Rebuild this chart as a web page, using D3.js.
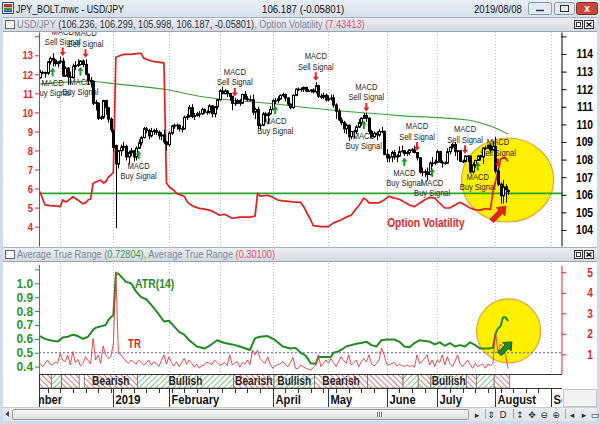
<!DOCTYPE html>
<html><head><meta charset="utf-8">
<script src="https://cdn.jsdelivr.net/npm/d3@7"></script>
<style>
html,body{margin:0;padding:0;background:#fff;overflow:hidden}
svg{display:block;font-family:"Liberation Sans",Arial,sans-serif}
</style></head><body>
<svg id="c" width="600" height="424"></svg>
<script>
// ================= DATA =================
const firstBarDate = "2018-11-21";
const calendarStart = "2018-11-01", calendarEnd = "2019-09-30";
const marketHolidays = ["2019-01-01"];

const open = [
112.65,112.95,112.95,112.90,113.55,113.75,113.65,113.45,113.55,113.60,
112.75,113.20,112.70,112.65,113.30,113.35,113.40,113.60,113.40,112.85,
112.50,112.45,111.20,111.20,110.35,110.40,111.35,110.95,110.30,109.65,
108.80,107.75,108.50,108.70,108.75,108.15,108.40,108.50,108.15,108.65,
108.95,109.25,109.75,109.65,109.35,109.60,109.65,109.55,109.35,109.40,
109.00,108.85,109.50,109.90,109.95,109.95,109.75,109.75,110.40,110.45,
110.95,110.45,110.50,110.60,110.60,110.85,110.70,110.70,111.05,110.60,
111.00,111.40,111.90,111.75,111.90,111.75,111.60,111.20,111.20,111.35,
111.20,111.70,111.45,111.40,111.40,110.70,110.85,109.95,109.95,110.60,
110.50,110.60,110.85,111.35,111.35,111.45,111.65,111.70,111.50,111.15,
110.95,111.65,112.00,112.00,112.00,112.10,111.90,111.90,111.95,111.85,
112.20,111.60,111.55,111.65,111.40,111.45,111.50,111.10,110.75,110.25,
110.10,109.75,109.95,109.30,109.60,109.60,109.85,110.10,110.35,110.50,
110.35,109.60,109.30,109.50,109.40,109.60,109.60,108.30,108.10,108.15,
108.40,108.15,108.20,108.45,108.50,108.35,108.40,108.55,108.55,108.40,
108.10,107.30,107.30,107.30,107.15,107.80,107.80,107.85,108.45,107.85,
107.80,107.80,108.45,108.70,108.85,108.45,108.50,107.90,107.90,108.20,
108.20,107.30,107.70,107.95,108.20,108.15,108.65,108.65,108.80,108.55,
108.75,107.35,106.60,105.95,106.45,106.236];
const high = [
113.10,113.05,113.00,113.60,113.85,114.05,113.70,113.60,113.85,113.80,
113.30,113.25,113.00,113.45,113.60,113.70,113.65,113.70,113.70,112.90,
112.70,112.50,111.40,111.25,110.50,111.40,111.40,111.00,110.40,109.70,
108.85,108.55,108.85,109.00,108.85,108.50,108.65,108.55,108.75,109.15,
109.35,109.85,109.85,109.75,109.80,109.75,109.80,109.65,109.55,109.70,
109.05,109.60,109.95,110.05,110.05,110.00,109.90,110.50,110.60,111.10,
111.15,110.65,110.70,110.75,110.95,110.90,110.80,111.15,111.10,111.05,
111.45,112.00,112.15,112.00,111.95,111.80,111.60,111.50,111.45,111.45,
111.75,111.90,111.60,111.65,111.70,110.95,111.00,110.05,110.70,110.70,
110.70,111.05,111.45,111.50,111.60,111.70,111.80,111.75,111.55,111.20,
111.70,112.05,112.10,112.10,112.15,112.15,112.00,112.00,112.05,112.40,
112.25,111.75,111.80,111.75,111.65,111.70,111.70,111.20,110.90,110.40,
110.20,110.05,110.00,109.60,109.70,109.95,110.30,110.40,110.65,110.65,
110.40,109.70,109.60,109.60,109.75,109.85,109.65,108.60,108.30,108.50,
108.55,108.30,108.75,108.80,108.55,108.50,108.60,108.65,108.80,108.42,
108.15,107.55,107.45,107.55,107.90,108.15,108.00,108.55,108.50,107.95,
107.90,108.65,108.75,108.95,109.00,108.55,108.55,108.00,108.25,108.25,
108.20,107.85,108.00,108.25,108.25,108.70,108.80,108.85,108.90,109.05,
109.30,107.50,106.70,106.85,106.60,106.299];
const low = [
112.60,112.85,112.65,112.80,113.40,113.30,113.30,113.25,113.45,112.70,
112.70,112.25,112.25,112.60,113.10,113.25,113.35,113.25,112.80,112.25,
112.10,111.10,110.80,110.25,110.25,110.30,110.55,110.10,109.55,108.45,
104.10,107.50,108.20,108.50,107.95,107.75,108.20,107.90,107.95,108.60,
108.80,109.20,109.50,109.15,109.25,109.40,109.40,109.15,109.10,108.90,
108.50,108.75,109.40,109.75,109.70,109.60,109.55,109.70,110.25,110.40,
110.35,110.25,110.45,110.40,110.55,110.60,110.55,110.60,110.40,110.40,
110.85,111.35,111.70,111.70,111.55,111.35,110.80,111.05,111.15,111.05,
111.15,111.40,111.30,111.30,110.55,110.30,109.75,109.70,109.90,110.15,
110.00,110.55,110.80,111.15,111.20,111.40,111.55,111.30,111.05,110.85,
110.90,111.60,111.90,111.85,111.85,111.85,111.85,111.80,111.75,111.75,
111.50,111.45,111.45,111.30,111.30,111.35,110.95,110.30,110.20,109.95,
109.50,109.45,109.05,109.15,109.20,109.45,109.80,109.90,110.30,110.15,
109.45,109.25,109.25,109.10,109.30,109.50,108.25,107.85,107.85,107.85,
108.00,107.85,108.15,108.40,108.20,108.20,108.25,108.40,108.35,107.95,
107.20,107.05,107.00,106.80,107.10,107.60,107.70,107.80,107.80,107.55,
107.70,107.75,108.30,108.60,108.20,107.95,107.85,107.80,107.85,107.85,
107.20,107.20,107.55,107.95,107.95,107.75,108.55,108.60,108.40,108.50,
107.20,106.50,105.50,105.50,105.55,105.998];
const close = [
112.95,112.95,112.90,113.55,113.75,113.65,113.45,113.55,113.60,112.75,
113.20,112.70,112.70,113.30,113.35,113.40,113.60,113.40,112.85,112.50,
112.45,111.20,111.25,110.35,110.40,111.35,110.95,110.30,109.70,108.70,
107.75,108.50,108.70,108.75,108.15,108.40,108.50,108.15,108.65,108.95,
109.25,109.75,109.65,109.35,109.60,109.65,109.55,109.35,109.40,109.00,
108.85,109.50,109.90,109.95,109.95,109.75,109.75,110.40,110.45,110.95,
110.45,110.50,110.60,110.60,110.85,110.70,110.70,111.05,110.60,111.00,
111.40,111.90,111.75,111.90,111.75,111.60,111.20,111.20,111.35,111.20,
111.70,111.45,111.40,111.40,110.70,110.85,109.95,109.95,110.60,110.50,
110.60,110.85,111.35,111.35,111.45,111.65,111.70,111.50,111.15,110.95,
111.65,112.00,112.00,112.00,112.10,111.90,111.90,111.95,111.85,112.20,
111.60,111.55,111.65,111.40,111.45,111.50,111.10,110.75,110.25,110.10,
109.75,109.95,109.30,109.60,109.60,109.85,110.10,110.35,110.50,110.35,
109.60,109.30,109.50,109.40,109.60,109.60,108.30,108.10,108.15,108.40,
108.15,108.20,108.45,108.50,108.35,108.40,108.55,108.55,108.40,108.10,
107.30,107.30,107.30,107.15,107.80,107.80,107.85,108.45,107.85,107.80,
107.80,108.45,108.70,108.85,108.45,108.50,107.90,107.90,108.20,108.20,
107.30,107.70,107.95,108.20,108.15,108.65,108.65,108.80,108.55,108.75,
107.35,106.60,105.95,106.45,106.30,106.187];

const trueRange = [
0.56,0.40,0.55,0.72,0.52,0.48,0.62,0.56,1.05,0.70,
0.64,0.97,0.48,1.13,0.60,0.75,0.43,0.56,0.88,0.70,
0.52,1.78,0.72,0.97,0.56,1.40,0.97,0.80,0.88,1.50,
5.03,1.05,0.97,0.80,0.68,0.56,0.72,0.62,0.52,0.72,
0.60,0.48,0.58,0.72,0.48,0.64,0.55,0.40,0.70,0.97,
0.52,0.88,0.60,0.43,0.64,0.40,0.60,0.80,0.52,0.72,
0.55,0.37,0.52,0.32,0.45,0.48,0.62,0.56,0.50,0.72,
0.60,0.48,0.52,0.60,0.45,0.97,0.48,0.58,0.64,0.37,
0.60,0.52,0.72,0.50,1.21,0.97,1.21,0.80,0.64,0.55,
0.88,0.52,0.32,0.45,0.48,0.55,0.64,0.50,0.40,0.60,
0.85,0.32,0.30,0.48,0.40,0.32,0.28,0.23,0.35,0.48,
0.97,0.40,0.55,0.72,0.56,0.80,0.60,0.40,0.64,0.88,
0.70,0.56,0.97,0.48,0.58,0.72,0.40,0.64,0.80,0.62,
0.97,0.56,0.43,0.55,0.72,1.30,0.97,0.52,0.48,0.55,
0.60,0.43,0.52,0.45,0.40,0.48,0.40,0.45,0.37,0.97,
0.56,0.65,0.80,0.97,0.48,0.72,0.40,0.72,0.60,0.97,
0.48,0.88,0.55,0.40,0.64,0.97,0.55,0.40,0.56,0.72,
0.50,0.32,0.56,0.40,0.48,0.52,0.32,0.52,0.45,0.56,
2.10,1.10,1.50,1.35,0.95,0.30];

// [bar number, value] vertices
const atr14 = [[0,0.62],[2,0.60],[4,0.59],[7,0.58],[9,0.61],[11,0.615],[13,0.63],[15,0.62],[17,0.60],[19,0.615],
[21,0.665],[22,0.68],[24,0.69],[26,0.70],[27,0.735],[28,0.755],[29,0.77],[30,1.07],[31,1.07],[32,1.05],[34,1.01],
[36,1.0],[38,0.94],[40,0.90],[42,0.885],[44,0.845],[46,0.80],[48,0.75],[49,0.725],[51,0.73],[53,0.69],[55,0.65],
[57,0.63],[59,0.59],[62,0.545],[65,0.53],[67,0.55],[70,0.59],[73,0.57],[76,0.56],[79,0.545],[83,0.52],[85,0.605],
[87,0.615],[90,0.62],[93,0.59],[96,0.545],[99,0.53],[101,0.535],[103,0.50],[105,0.48],[107,0.425],[109,0.42],
[110,0.47],[113,0.47],[115,0.47],[116,0.50],[118,0.51],[119,0.52],[121,0.545],[123,0.555],[125,0.565],[127,0.57],
[129,0.58],[131,0.555],[133,0.545],[135,0.59],[137,0.595],[140,0.595],[142,0.58],[144,0.545],[146,0.54],[148,0.57],
[150,0.59],[152,0.585],[154,0.58],[156,0.56],[158,0.575],[160,0.55],[162,0.57],[164,0.545],[166,0.555],[168,0.545],
[170,0.575],[172,0.555],[174,0.53],[177,0.53],[179,0.535],[180,0.635],[181,0.675],[182,0.69],[183,0.755],[184,0.755],[185,0.728]];

const optionVol = [[0,5.84],[2,5.14],[4,5.1],[7,5.08],[8,5.05],[9,5.4],[10,5.3],[11,5.35],[13,5.57],[15,5.4],[17,5.2],
[18,5.25],[19,5.4],[20,5.45],[21,6.28],[23,6.4],[24,6.45],[25,6.3],[26,6.35],[27,6.6],[28,6.7],[29,6.85],[30,12.9],
[31,12.95],[33,13.05],[36,13.05],[39,13.1],[40,13.1],[41,12.85],[44,12.7],[46,12.65],[49,12.6],[50,6.3],[51,6.1],
[53,5.9],[54,5.75],[57,5.6],[58,5.35],[59,5.2],[61,5.05],[63,4.96],[65,4.92],[67,4.87],[69,4.75],[71,4.6],[73,4.65],
[76,4.44],[79,4.5],[83,4.5],[85,4.55],[86,5.75],[87,5.6],[90,5.65],[92,5.55],[94,5.4],[96,5.35],[100,5.3],[103,5.28],
[104,5.1],[106,4.6],[107,4.35],[108,4.05],[111,4.0],[114,4.0],[116,4.2],[119,4.35],[121,4.5],[123,4.6],[125,4.95],
[126,5.1],[128,5.5],[129,5.4],[130,5.25],[134,5.25],[136,5.4],[138,5.6],[140,5.5],[142,5.44],[144,5.3],[146,5.14],
[148,5.05],[150,5.23],[152,5.4],[154,5.54],[156,5.5],[158,5.23],[160,4.98],[162,4.98],[164,5.14],[166,5.28],[168,5.14],
[170,4.98],[172,4.88],[174,4.87],[176,4.95],[178,4.9],[179,5.85],[181,6.9],[182,7.55],[183,7.6],[184,7.6],[185,7.43]];

const ma200 = [[0,112.3],[10,112.4],[20,112.45],[30,112.3],[51,111.95],[63,111.6],[90,111.2],[116,110.8],
[142,110.5],[169,110.25],[176,110.0],[180,109.8],[185,109.45]];

const sellSignals = ["2018-12-04","2018-12-17","2019-03-11","2019-04-24","2019-05-22","2019-06-19","2019-07-16","2019-08-02"];
const buySignals  = ["2018-11-28","2018-12-13","2019-01-16","2019-04-02","2019-05-21","2019-06-12","2019-06-27","2019-07-23"];

const regimeStart = ["2018-11-21","2018-11-28","2018-12-04","2018-12-17","2019-01-16","2019-03-11","2019-04-02","2019-04-24","2019-05-23","2019-06-12","2019-06-20","2019-06-27","2019-07-17","2019-07-23","2019-08-01"];
const regimeEnd   = ["2018-11-27","2018-12-03","2018-12-12","2019-01-15","2019-03-08","2019-04-01","2019-04-23","2019-05-22","2019-06-11","2019-06-19","2019-06-26","2019-07-16","2019-07-22","2019-07-31","2019-08-08"];
const regimeType  = ["bear","bull","bear","bear","bull","bear","bull","bear","bear","bull","bear","bull","bear","bull","bear"];

const supportLevel = 106.08;
const atrLevel = 0.5;
const volTicks = [4,5,6,7,8,9,10,11,12,13,14];
const priceTicks = [104,105,106,107,108,109,110,111,112,113,114,115];
const atrTicks = [0.4,0.5,0.6,0.7,0.8,0.9,1.0,1.1];
const trTicks = [1,2,3,4,5];
const monthTickLabels = ["November","December","2019","February","March","April","May","June","July","August","September"];

// ================= CALENDAR =================
const parseD = d3.utcParse("%Y-%m-%d"), fmtD = d3.utcFormat("%Y-%m-%d");
function tradingCalendar(from, to, skip){
  const out=[];
  for(let d=parseD(from); d<=parseD(to); d=d3.utcDay.offset(d,1)){
    const wd=d.getUTCDay(), s=fmtD(d);
    if(wd===0||wd===6||skip.includes(s)) continue;
    out.push(s);
  }
  return out;
}
const calendar = tradingCalendar(calendarStart, calendarEnd, marketHolidays);
const k0 = calendar.indexOf(firstBarDate);
const bar = s => calendar.indexOf(s) - k0;
const nBars = close.length;

// ================= LAYOUT =================
const svg = d3.select("#c");
const X0=39, X1=562, T0=32, T1=246, L0=263, L1=374, B1=388, AXB=407;
const FONT='"Liberation Sans",Arial,sans-serif';
const RED="#e3262b", GREEN="#2a962a";

const x = d3.scaleLinear().domain([-0.18, 206.3]).range([X0+0.5, X1]);
const volY = d3.scaleLinear().domain([2.984, 14.224]).range([T1, T0]);
const priceY = d3.scaleLinear().domain([103.09, 115.25]).range([T1, T0]);
const atrY = d3.scaleLinear().domain([0.347, 1.146]).range([L1, L0]);
const trY = d3.scaleLinear().domain([0.039, 5.454]).range([L1, L0]);

function squeeze(sel, f){
  sel.each(function(){const w=this.getComputedTextLength(); if(w>0){this.setAttribute("textLength",(w*f).toFixed(2)); this.setAttribute("lengthAdjust","spacingAndGlyphs");}});
}
function blockArrow(x1,y1,x2,y2,sw,hw,hl){
  const dx=x2-x1, dy=y2-y1, L=Math.hypot(dx,dy), ux=dx/L, uy=dy/L, px=-uy, py=ux;
  const bx=x2-ux*hl, by=y2-uy*hl;
  const pts=[[x1+px*sw/2,y1+py*sw/2],[bx+px*sw/2,by+py*sw/2],[bx+px*hw/2,by+py*hw/2],[x2,y2],
             [bx-px*hw/2,by-py*hw/2],[bx-px*sw/2,by-py*sw/2],[x1-px*sw/2,y1-py*sw/2]];
  return "M"+pts.map(p=>p[0].toFixed(2)+","+p[1].toFixed(2)).join("L")+"Z";
}

// defs
const defs = svg.append("defs");
defs.append("clipPath").attr("id","clipTop").append("rect").attr("x",X0+0.5).attr("y",T0).attr("width",X1-X0-0.5).attr("height",T1-T0);
defs.append("clipPath").attr("id","clipLow").append("rect").attr("x",X0+0.5).attr("y",L0).attr("width",X1-X0-0.5).attr("height",L1-L0);
defs.append("clipPath").attr("id","clipAx").append("rect").attr("x",X0+0.5).attr("y",L1).attr("width",X1-X0-0.5).attr("height",AXB-L1);
function grad(id, c1, c2){const g=defs.append("linearGradient").attr("id",id).attr("x1",0).attr("y1",0).attr("x2",0).attr("y2",1);
  g.append("stop").attr("offset","0").attr("stop-color",c1); g.append("stop").attr("offset","1").attr("stop-color",c2);}
grad("gTitle","#e9eff7","#d4e0ee"); grad("gHead","#eef0f3","#d3d8df"); grad("gThumb","#fbfbfb","#dcdcdc"); grad("gScroll","#eceef1","#e0e3e7");
function hatch(id, angle, color){
  const p=defs.append("pattern").attr("id",id).attr("patternUnits","userSpaceOnUse").attr("width",4).attr("height",4).attr("patternTransform",`rotate(${angle})`);
  p.append("rect").attr("width",4).attr("height",4).attr("fill","#fff");
  p.append("line").attr("x1",0.5).attr("y1",0).attr("x2",0.5).attr("y2",4).attr("stroke",color).attr("stroke-width",1);
}
hatch("hBear",-45,"#e47a7a"); hatch("hBull",45,"#86c286");

// ================= WINDOW CHROME =================
svg.append("rect").attr("width",600).attr("height",424).attr("fill","#fff");
svg.append("rect").attr("width",600).attr("height",17).attr("fill","url(#gTitle)");
const ic = svg.append("g");
ic.append("rect").attr("x",2.5).attr("y",2.5).attr("width",11).attr("height",11).attr("fill","#fff").attr("stroke","#3a4a6a");
ic.append("rect").attr("x",4).attr("y",4).attr("width",8).attr("height",3).attr("fill","#d02a2a");
ic.append("rect").attr("x",4).attr("y",7.5).attr("width",8).attr("height",2.5).attr("fill","#2a9a3a");
ic.append("rect").attr("x",4).attr("y",10.3).attr("width",8).attr("height",2).attr("fill","#2a4ad0");
const tt = svg.append("g").attr("font-family",FONT).attr("font-size",11).attr("fill","#111");
const t1 = tt.append("text").attr("x",16).attr("y",12.5).text("JPY_BOLT.mwc - USD/JPY");
const t2 = tt.append("text").attr("x",262).attr("y",12.5).text("106.187 (-0.05801)");
const t3 = tt.append("text").attr("x",474).attr("y",12.5).text("2019/08/08");
squeeze(t1,0.8); squeeze(t2,0.88); squeeze(t3,0.87);
svg.append("rect").attr("x",528.5).attr("y",2.5).attr("width",23).attr("height",12).attr("rx",2).attr("fill","#e3eaf4").attr("stroke","#8a99ad");
svg.append("line").attr("x1",536).attr("x2",544).attr("y1",10.5).attr("y2",10.5).attr("stroke","#333").attr("stroke-width",1.5);
svg.append("rect").attr("x",554.5).attr("y",2.5).attr("width",20).attr("height",12).attr("rx",2).attr("fill","#e3eaf4").attr("stroke","#8a99ad");
svg.append("rect").attr("x",560.5).attr("y",5.5).attr("width",8).attr("height",6).attr("fill","none").attr("stroke","#333");
svg.append("rect").attr("x",576.5).attr("y",2.5).attr("width",21).attr("height",12).attr("rx",2).attr("fill","#c9463c").attr("stroke","#8a2a22");
svg.append("text").attr("x",587).attr("y",12).attr("text-anchor","middle").attr("font-family",FONT).attr("font-weight","bold").attr("font-size",10).attr("fill","#fff").text("x");

svg.append("rect").attr("x",0).attr("y",17).attr("width",3).attr("height",407).attr("fill","#cfdbea");
svg.append("rect").attr("x",597).attr("y",17).attr("width",3).attr("height",407).attr("fill","#cfdbea");
svg.append("rect").attr("x",0).attr("y",421).attr("width",600).attr("height",3).attr("fill","#cfdbea");

function panelHeader(y0, parts){
  svg.append("rect").attr("x",3).attr("y",y0).attr("width",594).attr("height",15).attr("fill","url(#gHead)");
  svg.append("line").attr("x1",3).attr("x2",597).attr("y1",y0+0.5).attr("y2",y0+0.5).attr("stroke","#a9b1bc");
  svg.append("line").attr("x1",3).attr("x2",597).attr("y1",y0+14.5).attr("y2",y0+14.5).attr("stroke","#9aa3ae");
  svg.append("rect").attr("x",5.5).attr("y",y0+3.5).attr("width",9).attr("height",8).attr("fill","#fff").attr("stroke","#5d6673");
  const t = svg.append("text").attr("x",17).attr("y",y0+11).attr("font-family",FONT).attr("font-size",10);
  parts.forEach(p=>t.append("tspan").attr("fill",p[1]).text(p[0]));
  squeeze(t,0.92);
  svg.append("rect").attr("x",574.5).attr("y",y0+3.5).attr("width",8).attr("height",8).attr("fill","#fff").attr("stroke","#333");
  svg.append("rect").attr("x",576.5).attr("y",y0+5.5).attr("width",4).attr("height",4).attr("fill","none").attr("stroke","#333");
  svg.append("rect").attr("x",584.5).attr("y",y0+3.5).attr("width",9).attr("height",8).attr("fill","#fff").attr("stroke","#333");
  svg.append("path").attr("d",`M586.5,${y0+5.5}L591.5,${y0+9.5}M591.5,${y0+5.5}L586.5,${y0+9.5}`).attr("stroke","#111").attr("stroke-width",1.6);
}
panelHeader(17,[["USD/JPY","#7d8aa0"],[" (106.236, 106.299, 105.998, 106.187, -0.05801)","#26314a"],[", Option Volatility ","#7d8aa0"],["(7.43413)","#e2506a"]]);
panelHeader(L0-16,[["Average True Range ","#7d8aa0"],["(0.72804)","#3f9a55"],[", Average True Range ","#7d8aa0"],["(0.30100)","#e2506a"]]);

// ================= GRIDLINES =================
const monthStarts=[];
calendar.forEach((s,i)=>{ if(i===0 || s.slice(0,7)!==calendar[i-1].slice(0,7)) monthStarts.push(i-k0); });
const gGrid = svg.append("g").attr("stroke","#bdbdbd").attr("stroke-dasharray","1,2");
monthStarts.forEach(k=>{
  const xx=Math.round(x(k))+0.5;
  if(xx<=X0+1||xx>=X1) return;
  gGrid.append("line").attr("x1",xx).attr("x2",xx).attr("y1",T0).attr("y2",T1);
  gGrid.append("line").attr("x1",xx).attr("x2",xx).attr("y1",L0).attr("y2",L1);
});

// ================= TOP PANEL =================
const gTop = svg.append("g").attr("clip-path","url(#clipTop)");
gTop.append("ellipse").attr("cx",x(184.8)).attr("cy",priceY(106.84)).attr("rx",46).attr("ry",42)
  .attr("fill","#fff000").attr("stroke","#e1a43a").attr("stroke-width",1.2);
gTop.append("line").attr("x1",X0).attr("x2",X1).attr("y1",priceY(supportLevel)).attr("y2",priceY(supportLevel)).attr("stroke","#26a626").attr("stroke-width",1.6);
gTop.append("path").datum(ma200).attr("d",d3.line().x(d=>x(d[0])).y(d=>priceY(d[1])).curve(d3.curveMonotoneX))
  .attr("fill","none").attr("stroke","#3aa33a").attr("stroke-width",1.1);
gTop.append("path").datum(optionVol).attr("d",d3.line().x(d=>x(d[0])).y(d=>volY(d[1])))
  .attr("fill","none").attr("stroke","#e41d1d").attr("stroke-width",1.7).attr("stroke-linejoin","round");

const gLab = gTop.append("g").attr("font-family",FONT).attr("font-size",9).attr("fill","#262626").attr("text-anchor","middle");
sellSignals.forEach(s=>{const k=bar(s), xx=x(k), yh=priceY(high[k]);
  gLab.append("text").attr("x",xx).attr("y",yh-26+3).text("MACD");
  gLab.append("text").attr("x",xx).attr("y",yh-15.5+3).text("Sell Signal");});
buySignals.forEach(s=>{const k=bar(s), xx=x(k), yl=priceY(low[k]);
  gLab.append("text").attr("x",xx).attr("y",yl+16.5+3).text("MACD");
  gLab.append("text").attr("x",xx).attr("y",yl+26.5+3).text("Buy Signal");});
squeeze(gLab.selectAll("text"),0.84);

const gC = gTop.append("g");
for(let k=0;k<nBars;k++){
  const cx=Math.round(x(k))+0.5, o=open[k], c=close[k];
  gC.append("line").attr("x1",cx).attr("x2",cx).attr("y1",priceY(high[k])).attr("y2",priceY(low[k])).attr("stroke","#000").attr("stroke-width",1);
  const yt=priceY(Math.max(o,c)), yb=priceY(Math.min(o,c));
  gC.append("rect").attr("x",cx-1).attr("y",yt).attr("width",2).attr("height",Math.max(0.5,yb-yt))
    .attr("fill", c>=o ? "#fff" : "#000").attr("stroke","#000").attr("stroke-width",1);
}
sellSignals.forEach(s=>{const k=bar(s), xx=x(k), yh=priceY(high[k]);
  gTop.append("path").attr("d",blockArrow(xx,yh-10,xx,yh-1.5,2,6,4)).attr("fill","#e6241c");});
buySignals.forEach(s=>{const k=bar(s), xx=x(k), yl=priceY(low[k]);
  gTop.append("path").attr("d",blockArrow(xx,yl+10,xx,yl+1.5,2,6,4)).attr("fill","#1d9a25");});

const ov = gTop.append("text").attr("x",x(152.5)).attr("y",volY(4.2)).attr("dy","0.36em").attr("text-anchor","middle")
  .attr("font-family",FONT).attr("font-weight","bold").attr("font-size",12).attr("fill","#e02828").text("Option Volatility");
squeeze(ov,0.85);
gTop.append("path").attr("d",blockArrow(x(178.5),priceY(104.51),x(184.2),priceY(105.36),5,12,8)).attr("fill","#e8201a").attr("stroke","#a81010").attr("stroke-width",0.6);

const gVA = svg.append("g").attr("transform",`translate(${X0},0)`)
  .call(d3.axisLeft(volY).tickValues(volTicks).tickSize(4).tickSizeOuter(0).tickPadding(2).tickFormat(d=>d>13?"":d));
gVA.select(".domain").attr("stroke",RED);
gVA.selectAll(".tick line").attr("stroke",RED);
gVA.selectAll("text").attr("fill",RED).attr("font-size",11.5).attr("font-weight","bold").attr("font-family",FONT);
squeeze(gVA.selectAll("text"),0.82);
const gPA = svg.append("g").attr("transform",`translate(${X1-0.5},0)`)
  .call(d3.axisRight(priceY).tickValues(priceTicks).tickSize(5).tickSizeOuter(0).tickFormat(d=>d>114?"":d));
gPA.select(".domain").attr("stroke","#000");
gPA.selectAll("text").attr("fill","#000").attr("font-size",12).attr("font-weight","bold").attr("font-family",FONT).attr("text-anchor","end").attr("x",31.5);
squeeze(gPA.selectAll("text"),0.85);

// ================= LOWER PANEL =================
const gLow = svg.append("g").attr("clip-path","url(#clipLow)");
gLow.append("circle").attr("cx",x(185.2)).attr("cy",atrY(0.657)).attr("r",32).attr("fill","#fff000").attr("stroke","#e1a43a").attr("stroke-width",1.2);
gLow.append("line").attr("x1",X0).attr("x2",X1).attr("y1",atrY(atrLevel)).attr("y2",atrY(atrLevel)).attr("stroke","#5b5bd6").attr("stroke-dasharray","2,2");
gLow.append("path").datum(atr14).attr("d",d3.line().x(d=>x(d[0])).y(d=>atrY(d[1])))
  .attr("fill","none").attr("stroke","#1f8c1f").attr("stroke-width",2).attr("stroke-linejoin","round");
gLow.append("path").datum(trueRange).attr("d",d3.line().x((d,i)=>x(i)).y(d=>trY(d)))
  .attr("fill","none").attr("stroke","#e8353a").attr("stroke-width",0.9);
const atrT = gLow.append("text").attr("x",x(37.6)).attr("y",atrY(1.0)).attr("dy","0.36em").attr("font-family",FONT).attr("font-weight","bold").attr("font-size",12).attr("fill","#2a8a2a").text("ATR(14)");
const trT = gLow.append("text").attr("x",x(34.8)).attr("y",trY(1.5)).attr("dy","0.36em").attr("font-family",FONT).attr("font-weight","bold").attr("font-size",12).attr("fill","#e02828").text("TR");
squeeze(atrT,0.87); squeeze(trT,0.8);
gLow.append("path").attr("d",blockArrow(x(181.6),atrY(0.491),x(186.5),atrY(0.578),5,12,7)).attr("fill","#1b8f1b").attr("stroke","#0a3a0a").attr("stroke-width",0.8);

const gAA = svg.append("g").attr("transform",`translate(${X0},0)`)
  .call(d3.axisLeft(atrY).tickValues(atrTicks).tickSize(4).tickSizeOuter(0).tickPadding(2).tickFormat(d=>d>1.05?"":d3.format(".1f")(d)));
gAA.select(".domain").attr("stroke",GREEN).attr("d",`M0.5,${L1}V${L0+2}`);
gAA.selectAll(".tick line").attr("stroke",GREEN);
gAA.selectAll("text").attr("fill",GREEN).attr("font-size",12.5).attr("font-weight","bold").attr("font-family",FONT);
squeeze(gAA.selectAll("text"),0.95);
const gTA = svg.append("g").attr("transform",`translate(${X1-0.5},0)`)
  .call(d3.axisRight(trY).tickValues(trTicks).tickSize(5).tickSizeOuter(0).tickFormat(d3.format("d")));
gTA.select(".domain").attr("stroke",RED).attr("d",`M0.5,${L1}V${L0+3}`);
gTA.selectAll(".tick line").attr("stroke",RED);
gTA.selectAll("text").attr("fill",RED).attr("font-size",12).attr("font-weight","bold").attr("font-family",FONT).attr("text-anchor","end").attr("x",31.5);
squeeze(gTA.selectAll("text"),0.85);

// ================= REGIME BAND =================
const band = svg.append("g").attr("clip-path","url(#clipAx)");
regimeStart.forEach((s,i)=>{
  const xa=x(bar(s)-0.5), xb=x(bar(regimeEnd[i])+0.5);
  band.append("rect").attr("x",xa).attr("y",L1).attr("width",xb-xa).attr("height",B1-L1)
    .attr("fill",regimeType[i]==="bear"?"url(#hBear)":"url(#hBull)").attr("stroke","#6a6a6a").attr("stroke-width",0.8);
  const lab = regimeType[i]==="bear"?"Bearish":"Bullish";
  const t = band.append("text").attr("x",(xa+xb)/2).attr("y",L1+11).attr("text-anchor","middle")
    .attr("font-family",FONT).attr("font-weight","bold").attr("font-size",12).attr("fill","#2b1f1f").text(lab);
  const w=t.node().getComputedTextLength()*0.85;
  if(w+1 > xb-xa) t.remove(); else squeeze(t,0.85);
});
svg.append("line").attr("x1",X0).attr("x2",X1).attr("y1",L1+0.5).attr("y2",L1+0.5).attr("stroke","#333");
svg.append("line").attr("x1",X0).attr("x2",X1).attr("y1",B1+0.5).attr("y2",B1+0.5).attr("stroke","#333");
svg.append("line").attr("x1",X0+0.5).attr("x2",X0+0.5).attr("y1",L1).attr("y2",AXB).attr("stroke","#333");

// ================= DATE AXIS =================
const dax = svg.append("g").attr("clip-path","url(#clipAx)");
calendar.forEach((s,i)=>{
  if(parseD(s).getUTCDay()!==1) return;
  const xx=Math.round(x(i-k0))+0.5;
  dax.append("line").attr("x1",xx).attr("x2",xx).attr("y1",B1).attr("y2",B1+5).attr("stroke","#333");
});
let prevEnd=-1e9;
monthStarts.forEach((k,j)=>{
  const xx=Math.round(x(k))+0.5;
  const t=dax.append("text").attr("x",xx+2).attr("y",B1+15.5).attr("font-family",FONT).attr("font-weight","bold").attr("font-size",13).attr("fill","#111").text(monthTickLabels[j]);
  const w=t.node().getComputedTextLength()*0.86;
  if(xx+2 < prevEnd+4){ t.remove(); return; }
  squeeze(t,0.86); prevEnd=xx+2+w;
  dax.append("line").attr("x1",xx).attr("x2",xx).attr("y1",B1).attr("y2",AXB).attr("stroke","#333");
});
svg.append("rect").attr("x",563.5).attr("y",389.5).attr("width",33).attr("height",17).attr("fill","#f3f3f3").attr("stroke","#c6c6c6");

// ================= SCROLL BAR =================
svg.append("rect").attr("x",3).attr("y",AXB).attr("width",594).attr("height",14).attr("fill","url(#gScroll)");
svg.append("line").attr("x1",3).attr("x2",597).attr("y1",AXB+0.5).attr("y2",AXB+0.5).attr("stroke","#c9cdd3");
svg.append("path").attr("d",`M9,${AXB+4}L5.5,${AXB+7}L9,${AXB+10}Z`).attr("fill","#444");
svg.append("rect").attr("x",12.5).attr("y",AXB+2.5).attr("width",456).attr("height",10).attr("rx",2).attr("fill","url(#gThumb)").attr("stroke","#9c9c9c");
[377,379,381].forEach(g=>svg.append("line").attr("x1",g+0.5).attr("x2",g+0.5).attr("y1",AXB+5).attr("y2",AXB+10).attr("stroke","#777"));
const icons=[[477,"▸"],[491,"⇕"],[503,"D"],[520,"↕"],[532,"✥"],[544,"⊖"],[556,"⊕"],[572,"◂"],[584,"▸"],[595,"▭"]];
icons.forEach(c=>svg.append("text").attr("x",c[0]).attr("y",AXB+11).attr("text-anchor","middle").attr("font-family","DejaVu Sans").attr("font-size",9).attr("fill","#333").text(c[1]));
[485,513,565].forEach(g=>svg.append("line").attr("x1",g+0.5).attr("x2",g+0.5).attr("y1",AXB+2).attr("y2",AXB+12).attr("stroke","#aaa"));
</script></body></html>
